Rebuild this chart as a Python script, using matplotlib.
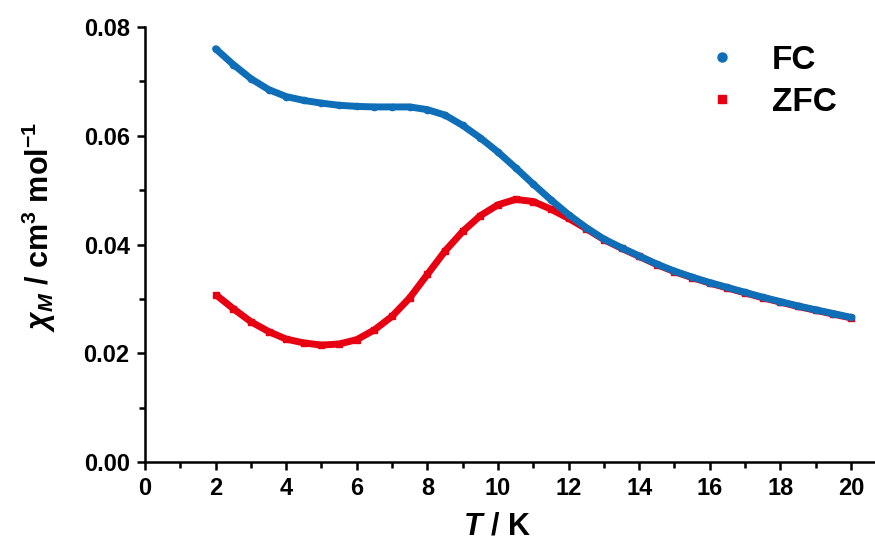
import matplotlib
matplotlib.use("Agg")
import matplotlib.pyplot as plt
from matplotlib.lines import Line2D
from matplotlib.ticker import MultipleLocator

plt.rcParams['font.family'] = ['Liberation Sans', 'DejaVu Sans']
plt.rcParams['mathtext.fontset'] = 'custom'
plt.rcParams['mathtext.rm'] = 'Liberation Sans:bold'
plt.rcParams['mathtext.bf'] = 'Liberation Sans:bold'
plt.rcParams['mathtext.it'] = 'Liberation Sans:italic:bold'

# Temperature (K)
T = [2.0, 2.5, 3.0, 3.5, 4.0, 4.5, 5.0, 5.5, 6.0, 6.5, 7.0, 7.5, 8.0, 8.5, 9.0,
     9.5, 10.0, 10.5, 11.0, 11.5, 12.0, 12.5, 13.0, 13.5, 14.0, 14.5, 15.0,
     15.5, 16.0, 16.5, 17.0, 17.5, 18.0, 18.5, 19.0, 19.5, 20.0]

# chi_M (cm3 mol-1), field cooled
fc = [0.0760, 0.0731, 0.0705, 0.0685, 0.0672, 0.0665, 0.0660, 0.0656, 0.0654,
      0.0653, 0.0653, 0.0653, 0.0648, 0.0638, 0.0619, 0.0596, 0.0570, 0.0541,
      0.0511, 0.0482, 0.0455, 0.0431, 0.0410, 0.0394, 0.0379, 0.0364, 0.0351,
      0.0340, 0.0330, 0.0321, 0.0312, 0.0303, 0.0295, 0.0287, 0.0280, 0.0273,
      0.0266]

# chi_M (cm3 mol-1), zero-field cooled
zfc = [0.0308, 0.0282, 0.0258, 0.0240, 0.0226, 0.0219, 0.0215, 0.0217, 0.0225,
       0.0243, 0.0268, 0.0302, 0.0345, 0.0388, 0.0424, 0.0453, 0.0473, 0.0483,
       0.0479, 0.0465, 0.0448, 0.0429, 0.0409, 0.0393, 0.0378, 0.0363, 0.0350,
       0.0339, 0.0329, 0.0320, 0.0311, 0.0302, 0.0294, 0.0286, 0.0279, 0.0272,
       0.0265]

labels = ["FC", "ZFC"]
blue = "#0E6EB8"
red = "#E60012"

W, H = 875, 542
fig = plt.figure(figsize=(W / 100, H / 100), dpi=100)
ax = fig.add_axes([145 / W, (H - 462) / H, (W - 145) / W, (462 - 27) / H])

ax.plot(T, zfc, color=red, lw=5, marker='s', ms=4, solid_capstyle='butt')
ax.plot(T, fc, color=blue, lw=5, marker='o', ms=4.5, solid_capstyle='round')

ax.set_xlim(0, (W - 145) / 35.3)
ax.set_ylim(0, 0.08)
ax.xaxis.set_major_locator(MultipleLocator(2))
ax.xaxis.set_minor_locator(MultipleLocator(1))
ax.yaxis.set_major_locator(MultipleLocator(0.02))
ax.yaxis.set_minor_locator(MultipleLocator(0.01))
ax.yaxis.set_major_formatter(matplotlib.ticker.FormatStrFormatter('%.2f'))

for s in ['top', 'right']:
    ax.spines[s].set_visible(False)
for s in ['left', 'bottom']:
    ax.spines[s].set_linewidth(1.8)

ax.tick_params(which='major', direction='out', length=6, width=1.8,
               labelsize=17, pad=5)
ax.tick_params(which='minor', direction='out', length=4, width=1.8)
for lab in ax.get_xticklabels() + ax.get_yticklabels():
    lab.set_fontweight('bold')

ax.set_xlabel(r'$T$ / K', fontsize=22, fontweight='bold')
ax.set_ylabel(r'$\chi_M$ / cm$^{3}$ mol$^{-1}$', fontsize=22, fontweight='bold')
ax.xaxis.set_label_coords(0.482, -0.113)
ax.yaxis.set_label_coords(-0.119, 0.54)

handles = [Line2D([], [], color=blue, marker='o', ls='none', ms=6.5),
           Line2D([], [], color=red, marker='s', ls='none', ms=5.5)]
leg = ax.legend(handles, labels, loc='upper left',
                bbox_to_anchor=(705.5 / W, 1 - 45 / H),
                bbox_transform=fig.transFigure, frameon=False,
                fontsize=24, handlelength=1.0, handletextpad=1.0,
                labelspacing=0.32, borderpad=0, borderaxespad=0)
for t in leg.get_texts():
    t.set_fontweight('bold')

fig.savefig("out.png", dpi=100)
